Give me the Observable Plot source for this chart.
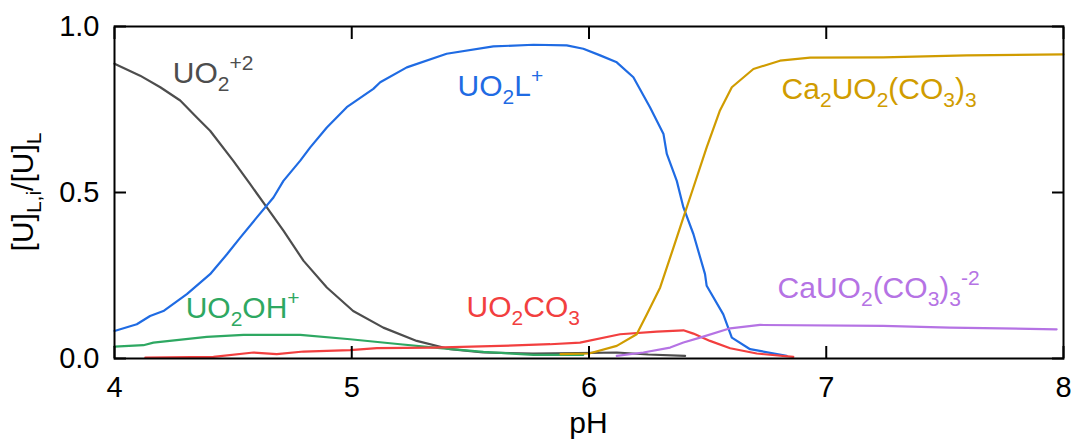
<!DOCTYPE html>
<html><head><meta charset="utf-8">
<script src="https://cdn.jsdelivr.net/npm/d3@7"></script>
<script src="https://cdn.jsdelivr.net/npm/@observablehq/plot@0.6"></script>
<style>
html,body{margin:0;padding:0;background:#fff;}
#chart svg{font-family:"Liberation Sans",Arial,sans-serif;font-size:29px;background:#fff;color:#000;}
</style></head>
<body><div id="chart"></div>
<script>
// pH / fraction pairs
const uo2_pH = [4.0,4.108,4.193,4.277,4.347,4.403,4.50,4.572,4.642,4.712,4.797,4.895,5.006,5.133,5.274,5.415,5.554,5.764,5.95,6.117,6.25,6.405];
const uo2_y  = [0.888,0.852,0.817,0.777,0.726,0.686,0.596,0.525,0.455,0.385,0.294,0.214,0.143,0.093,0.053,0.028,0.018,0.015,0.016,0.018,0.012,0.008];

const uo2L_pH = [4.0,4.094,4.15,4.206,4.305,4.403,4.474,4.53,4.60,4.67,4.712,4.783,4.825,4.895,4.979,5.091,5.12,5.232,5.40,5.597,5.766,5.906,5.976,6.047,6.117,6.187,6.257,6.314,6.328,6.370,6.398,6.440,6.489,6.496,6.566,6.602,6.679,6.833];
const uo2L_y  = [0.083,0.103,0.128,0.143,0.194,0.254,0.314,0.364,0.425,0.485,0.535,0.596,0.636,0.696,0.757,0.812,0.832,0.877,0.918,0.940,0.945,0.943,0.933,0.913,0.892,0.847,0.757,0.676,0.616,0.535,0.455,0.375,0.254,0.219,0.133,0.063,0.028,0.008];

const uo2OH_pH = [4.0,4.122,4.164,4.389,4.544,4.783,4.993,5.204,5.373,5.555,5.766,5.976];
const uo2OH_y  = [0.036,0.040,0.048,0.065,0.071,0.071,0.058,0.043,0.031,0.020,0.011,0.011];

const uo2CO3_pH = [4.13,4.417,4.586,4.684,4.797,4.993,5.106,5.344,5.625,5.836,5.962,6.131,6.286,6.398,6.44,6.51,6.595,6.707,6.861];
const uo2CO3_y  = [0.003,0.005,0.018,0.013,0.021,0.025,0.031,0.033,0.038,0.043,0.048,0.073,0.081,0.085,0.075,0.053,0.031,0.015,0.005];

const ca2_pH = [5.88,6.0,6.117,6.201,6.244,6.30,6.356,6.398,6.44,6.496,6.552,6.602,6.693,6.805,6.932,7.24,7.592,8.0];
const ca2_y  = [0.013,0.015,0.038,0.073,0.133,0.214,0.334,0.425,0.515,0.636,0.747,0.817,0.872,0.897,0.906,0.907,0.913,0.916];

const ca1_pH = [6.117,6.229,6.342,6.398,6.468,6.595,6.721,7.24,7.52,7.971];
const ca1_y  = [0.008,0.018,0.033,0.048,0.063,0.091,0.101,0.098,0.093,0.088];

const xTicks = [4,5,6,7,8];
const xTickLabels = ["4","5","6","7","8"];
const yTicks = [0,0.5,1];
const yTickLabels = ["0.0","0.5","1.0"];

const seriesColors = ["#4d4d4d","#1f6be3","#2ea862","#f23f3f","#d09c00","#b573e4"];
// label anchor (pH, fraction) and rich-text parts: [text, kind] kind: n normal, b sub, p sup
const labelPH = [4.248,5.448,4.302,5.486,6.814,6.797];
const labelY  = [0.828,0.789,0.119,0.122,0.780,0.182];
const labelParts = [
  [["UO","n"],["2","b"],["+2","p"]],
  [["UO","n"],["2","b"],["L","n"],["+","p"]],
  [["UO","n"],["2","b"],["OH","n"],["+","p"]],
  [["UO","n"],["2","b"],["CO","n"],["3","b"]],
  [["Ca","n"],["2","b"],["UO","n"],["2","b"],["(CO","n"],["3","b"],[")","n"],["3","b"]],
  [["CaUO","n"],["2","b"],["(CO","n"],["3","b"],[")","n"],["3","b"],["-2","p"]]
];

const seriesX = [uo2_pH,uo2L_pH,uo2OH_pH,uo2CO3_pH,ca2_pH,ca1_pH];
const seriesY = [uo2_y,uo2L_y,uo2OH_y,uo2CO3_y,ca2_y,ca1_y];

const xMin = xTicks[0], xMax = xTicks[xTicks.length-1];
const yMin = yTicks[0], yMax = yTicks[yTicks.length-1];
const tickLen = 12;

const lineMarks = seriesX.map((xs,k)=>Plot.line(xs.map((x,i)=>[x,seriesY[k][i]]),
  {x:d=>d[0], y:d=>d[1], stroke:seriesColors[k], strokeWidth:2.2}));

const plot = Plot.plot({
  width:1073, height:441,
  marginLeft:114, marginRight:10, marginTop:26, marginBottom:83,
  x:{domain:[xMin,xMax], axis:null},
  y:{domain:[yMin,yMax], axis:null},
  marks:[
    ...lineMarks,
    // inward ticks on all four sides
    Plot.axisX(xTicks,{anchor:"bottom",tickSize:-tickLen,stroke:"black",strokeWidth:2,tickFormat:()=>"",label:null}),
    Plot.axisX(xTicks,{anchor:"top",tickSize:-tickLen,stroke:"black",strokeWidth:2,tickFormat:()=>"",label:null}),
    Plot.axisY(yTicks,{anchor:"left",tickSize:-tickLen,stroke:"black",strokeWidth:2,tickFormat:()=>"",label:null}),
    Plot.axisY(yTicks,{anchor:"right",tickSize:-tickLen,stroke:"black",strokeWidth:2,tickFormat:()=>"",label:null}),
    Plot.axisX(xTicks,{anchor:"bottom",tickSize:0,tickPadding:18,fontSize:29,label:null,tickFormat:d=>xTickLabels[xTicks.indexOf(d)]}),
    Plot.axisY(yTicks,{anchor:"left",tickSize:0,tickPadding:15,fontSize:29,label:null,tickFormat:d=>yTickLabels[yTicks.indexOf(d)]}),
    Plot.frame({stroke:"black",strokeWidth:2})
  ]
});
document.getElementById("chart").appendChild(plot);

const svg = d3.select(plot);
const sx = plot.scale("x"), sy = plot.scale("y");
const subSize = 21, mainSize = 30;
function rich(g, parts, color){
  const t = g.append("text").attr("fill",color).attr("font-size",mainSize).attr("text-anchor","start");
  let shift = 0;
  parts.forEach(([txt,kind])=>{
    const target = kind==="b"?8:kind==="p"?-13:0;
    const ts = t.append("tspan").text(txt).attr("dy",target-shift);
    if(kind!=="n") ts.attr("font-size",subSize);
    shift = target;
  });
  return t;
}
const lg = svg.append("g");
labelPH.forEach((p,i)=>{
  rich(lg, labelParts[i], seriesColors[i]).attr("x",sx.apply(p)).attr("y",sy.apply(labelY[i]));
});
// axis titles
svg.append("text").attr("x",(sx.apply(xMin)+sx.apply(xMax))/2).attr("y",433)
  .attr("text-anchor","middle").attr("font-size",30).attr("fill","black").text("pH");
rich(svg.append("g").attr("transform",`translate(33,${(sy.apply(yMin)+sy.apply(yMax))/2}) rotate(-90)`),
  [["[U]","n"],["L,i","b"],["/[U]","n"],["L","b"]],"black").attr("text-anchor","middle");
</script></body></html>
